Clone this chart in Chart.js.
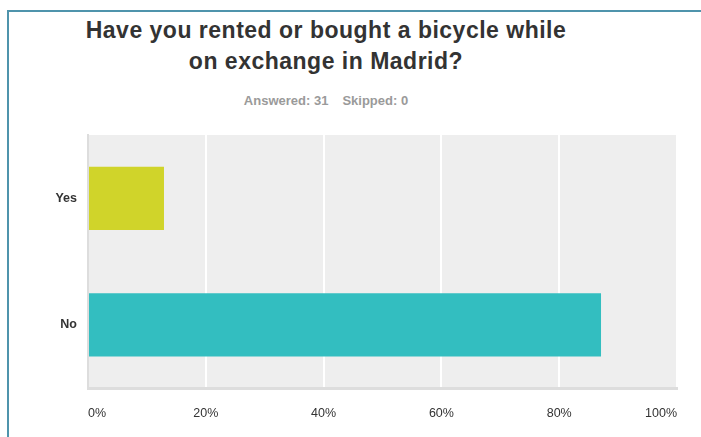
<!DOCTYPE html>
<html>
<head>
<meta charset="utf-8">
<script src="https://cdn.jsdelivr.net/npm/chart.js@4"></script>
<style>
  html, body { margin: 0; padding: 0; background: #fff; }
  #wrap { position: relative; width: 701px; height: 437px; overflow: hidden; font-family: "Liberation Sans", Arial, sans-serif; }
  #frame { position: absolute; left: 7px; top: 10px; width: 720px; height: 460px; border-top: 2px solid #4f94ac; border-left: 2px solid #4f94ac; }
  #title { position: absolute; left: 0; top: 15px; width: 652px; text-align: center; font-weight: bold; font-size: 23px; letter-spacing: 0.5px; line-height: 31px; color: #333; }
  #sub { position: absolute; left: 0; top: 93px; width: 652px; text-align: center; font-weight: bold; font-size: 13px; line-height: 15px; color: #9a9a9a; }
  #sub span + span { margin-left: 14px; }
  canvas { position: absolute; left: 0; top: 0; }
</style>
</head>
<body>
<div id="wrap">
  <div id="frame"></div>
  <div id="title">Have you rented or bought a bicycle while<br>on exchange in Madrid?</div>
  <div id="sub"><span>Answered: 31</span><span>Skipped: 0</span></div>
  <canvas id="myChart" width="701" height="437"></canvas>
</div>
<script>
const answers = ['Yes', 'No'];
const percentages = [12.9, 87.1];
const barColors = ['#d0d42a', '#33bec0'];
const tickValues = [0, 20, 40, 60, 80, 100];

// grey plot background
const plotBackground = {
  id: 'plotBackground',
  beforeDraw(chart) {
    const { ctx, chartArea } = chart;
    ctx.save();
    ctx.fillStyle = '#eeeeee';
    ctx.fillRect(chartArea.left, chartArea.top, chartArea.right - chartArea.left, chartArea.bottom - chartArea.top);
    ctx.restore();
  }
};

const ctx = document.getElementById('myChart').getContext('2d');
const myChart = new Chart(ctx, {
  type: 'bar',
  data: {
    labels: answers,
    datasets: [{
      data: percentages,
      backgroundColor: barColors,
      borderWidth: 0,
      barPercentage: 0.5,
      categoryPercentage: 1
    }]
  },
  options: {
    indexAxis: 'y',
    responsive: false,
    animation: false,
    layout: { padding: { left: 0, top: 135, right: 24, bottom: 0 } },
    plugins: {
      legend: { display: false },
      tooltip: { enabled: false }
    },
    scales: {
      x: {
        min: 0,
        max: 100,
        afterBuildTicks: (scale) => {
          scale.ticks = tickValues.map(v => ({ value: v }));
        },
        afterFit: (scale) => { scale.height = 49; },
        grid: { color: '#ffffff', lineWidth: 2, drawTicks: false },
        border: { color: '#dddddd', width: 3 },
        ticks: {
          align: 'inner',
          padding: 18,
          color: '#333333',
          font: { family: 'Liberation Sans', size: 12.5 },
          callback: (v) => v + '%'
        }
      },
      y: {
        afterFit: (scale) => { scale.width = 88; },
        grid: { display: false },
        border: { color: '#dddddd', width: 2 },
        ticks: {
          padding: 3,
          color: '#333333',
          font: { family: 'Liberation Sans', size: 12.5, weight: 'bold' }
        }
      }
    }
  },
  plugins: [plotBackground]
});
</script>
</body>
</html>
